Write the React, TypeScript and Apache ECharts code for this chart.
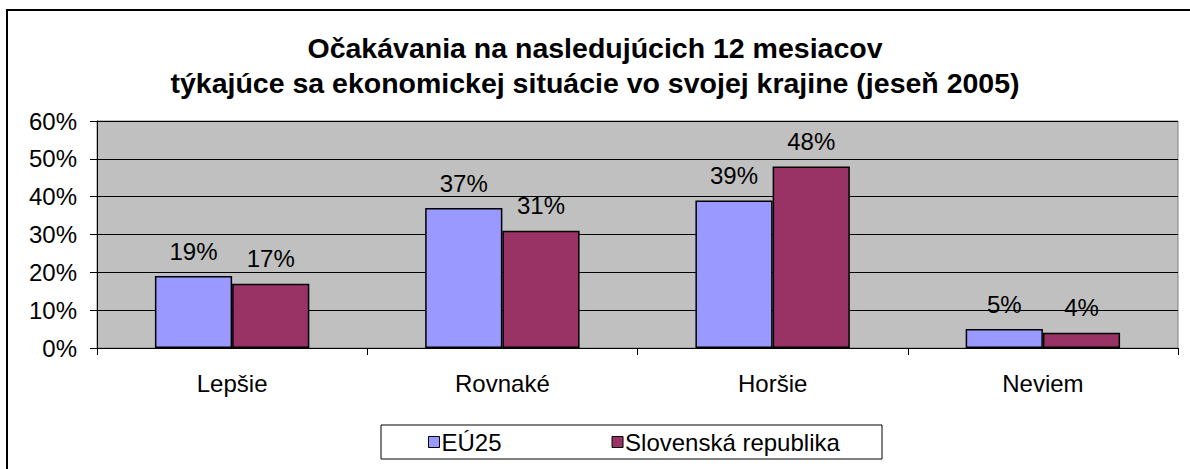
import React, { useEffect, useRef } from "react";
import * as echarts from "echarts";

const categories = ["Lepšie", "Rovnaké", "Horšie", "Neviem"];
const euValues = [0.19, 0.37, 0.39, 0.05];
const skValues = [0.17, 0.31, 0.48, 0.04];
const seriesNames = ["EÚ25", "Slovenská republika"];
const titleLines = [
  "Očakávania na nasledujúcich 12 mesiacov",
  "týkajúce sa ekonomickej situácie vo svojej krajine (jeseň 2005)",
];

const FONT = "'Liberation Sans', Arial, sans-serif";
const FS = 24;

export default function App() {
  const ref = useRef<HTMLDivElement>(null);
  useEffect(() => {
    if (!ref.current) return;
    const chart = echarts.init(ref.current, undefined, { renderer: "svg" });
    const pct = (v: number) => `${Math.round(v * 100)}%`;
    const label = {
      show: true,
      position: "top",
      distance: 13,
      color: "#000",
      fontSize: FS,
      fontFamily: FONT,
      formatter: (p: any) => pct(p.value),
    };
    chart.setOption({
      animation: false,
      backgroundColor: "#fff",
      textStyle: { fontFamily: FONT },
      title: {
        text: titleLines.join("\n"),
        left: 590,
        textAlign: "center",
        top: 25,
        textStyle: {
          fontFamily: FONT,
          fontWeight: "bold",
          fontSize: 28.5,
          lineHeight: 35,
          color: "#000",
        },
      },
      graphic: [
        {
          type: "rect",
          shape: { x: 7, y: 10, width: 1200, height: 500 },
          style: { fill: "none", stroke: "#000", lineWidth: 2 },
          silent: true,
          z: -10,
        },
        {
          type: "rect",
          shape: { x: 381, y: 425, width: 501, height: 34 },
          style: { fill: "#fff", stroke: "#000", lineWidth: 1 },
          silent: true,
          z: -5,
        },
      ],
      legend: {
        data: seriesNames,
        left: 428,
        top: 430,
        padding: 0,
        itemWidth: 11,
        itemHeight: 11,
        itemGap: 110,
        icon: "rect",
        textStyle: { fontFamily: FONT, fontSize: FS, color: "#000", padding: [0, 0, 0, -3] },
        itemStyle: { borderColor: "#000", borderWidth: 1 },
      },
      grid: {
        left: 97,
        right: 12,
        top: 121,
        bottom: 121,
        show: true,
        backgroundColor: "#C0C0C0",
        borderColor: "#808080",
        borderWidth: 1,
      },
      xAxis: {
        type: "category",
        data: categories,
        axisLine: { lineStyle: { color: "#000", width: 1 } },
        axisTick: { show: true, length: 7, lineStyle: { color: "#000" } },
        axisLabel: { color: "#000", fontSize: FS, fontFamily: FONT, margin: 23 },
      },
      yAxis: {
        type: "value",
        min: 0,
        max: 0.6,
        interval: 0.1,
        axisLine: { show: true, lineStyle: { color: "#000", width: 1 } },
        axisTick: { show: true, length: 7, lineStyle: { color: "#000" } },
        axisLabel: {
          color: "#000",
          fontSize: FS,
          fontFamily: FONT,
          margin: 20,
          formatter: (v: number) => pct(v),
        },
        splitLine: { show: true, lineStyle: { color: "#000", width: 1 } },
      },
      series: [
        {
          name: seriesNames[0],
          type: "bar",
          data: euValues,
          barGap: "0%",
          barCategoryGap: "42.86%",
          itemStyle: { color: "#9999FF", borderColor: "#000", borderWidth: 1.5 },
          label,
        },
        {
          name: seriesNames[1],
          type: "bar",
          data: skValues,
          barGap: "0%",
          barCategoryGap: "42.86%",
          itemStyle: { color: "#993366", borderColor: "#000", borderWidth: 1.5 },
          label,
        },
      ],
    });
    return () => chart.dispose();
  }, []);
  return (
    <div
      ref={ref}
      style={{ position: "absolute", left: 0, top: 0, width: 1190, height: 469 }}
    />
  );
}
